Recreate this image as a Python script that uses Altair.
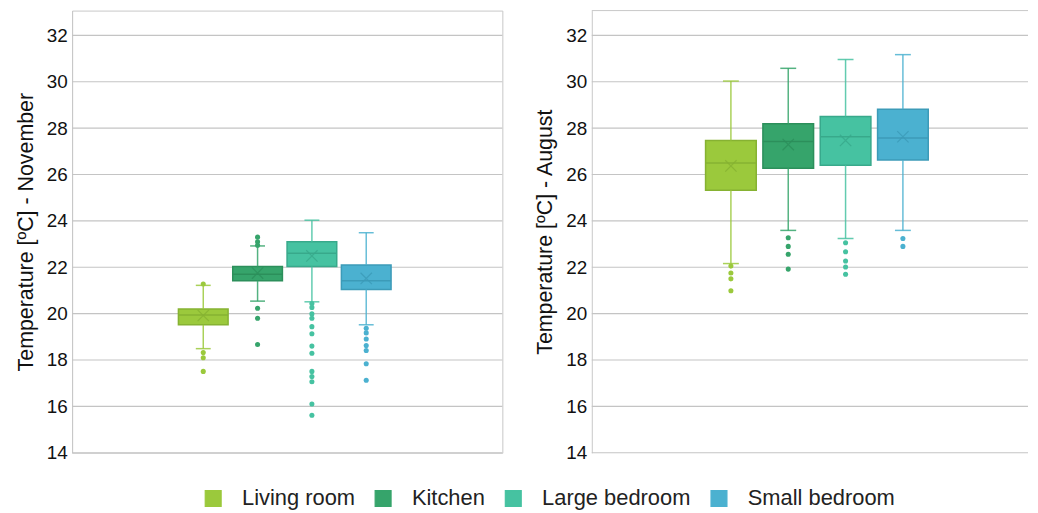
import altair as alt
import pandas as pd

rooms = ["Living room", "Kitchen", "Large bedroom", "Small bedroom"]
fill_colors = ["#9BC93C", "#36A46B", "#46C2A1", "#4BB1D0"]
line_colors = ["#86B232", "#2C8F5B", "#38A98B", "#3C9BB8"]
y_ticks = [14, 16, 18, 20, 22, 24, 26, 28, 30, 32]

# November statistics
nov_low = [18.49, 20.54, 20.51, 19.52]
nov_q1 = [19.52, 21.42, 22.03, 21.04]
nov_median = [19.94, 21.70, 22.60, 21.42]
nov_q3 = [20.20, 22.03, 23.10, 22.10]
nov_high = [21.22, 22.92, 24.03, 23.49]
nov_mean = [19.92, 21.75, 22.49, 21.52]
nov_outliers = [
    [21.28, 18.32, 18.10, 17.51],
    [23.30, 23.10, 22.95, 20.23, 19.80, 18.67],
    [20.44, 20.27, 19.99, 19.80, 19.44, 19.13, 18.60, 18.29, 17.51, 17.29, 17.06, 16.10, 15.62],
    [19.37, 19.17, 18.91, 18.63, 18.41, 17.84, 17.13],
]

# August statistics
aug_low = [22.16, 23.59, 23.24, 23.59]
aug_q1 = [25.32, 26.27, 26.40, 26.63]
aug_median = [26.50, 27.42, 27.63, 27.57]
aug_q3 = [27.47, 28.19, 28.50, 28.82]
aug_high = [30.03, 30.58, 30.96, 31.17]
aug_mean = [26.37, 27.29, 27.47, 27.63]
aug_outliers = [
    [22.05, 21.75, 21.50, 20.99],
    [23.27, 22.90, 22.56, 21.92],
    [23.06, 22.67, 22.27, 22.01, 21.70],
    [23.24, 22.90],
]

XPATH = "M-1,-1L1,1M-1,1L1,-1"
BORDER = "#c8c8c8"


def make_frames(low, q1, med, q3, high, mean, outs):
    stats = pd.DataFrame({"room": rooms, "low": low, "q1": q1, "median": med,
                          "q3": q3, "high": high, "mean": mean})
    rows = []
    for r, vals in zip(rooms, outs):
        for v in vals:
            rows.append({"room": r, "value": v})
    return stats, pd.DataFrame(rows)


def panel(stats, outs, title, width, band_range, p_inner, box_w, cap_w, open_right):
    xs = alt.X("room:N", sort=rooms,
               scale=alt.Scale(domain=rooms, range=band_range, paddingOuter=0,
                               paddingInner=p_inner),
               axis=alt.Axis(labels=False, ticks=False, title=None, grid=False,
                             domain=False))
    ysc = alt.Scale(domain=[14, 33.07], nice=False, zero=False)
    yax = alt.Axis(values=y_ticks, title=title, ticks=False, labelPadding=5,
                   titlePadding=9, domainColor=BORDER, grid=False)
    leg = alt.Legend(title=None, orient="none", legendX=131, legendY=480,
                     direction="horizontal",
                     symbolType="square", symbolSize=256, symbolStrokeWidth=1.2,
                     labelFontSize=22, labelOffset=18, columnPadding=17,
                     symbolOpacity=1)
    color = alt.Color("room:N", scale=alt.Scale(domain=rooms, range=fill_colors),
                      legend=leg)
    strk_leg = alt.Stroke("room:N", scale=alt.Scale(domain=rooms, range=line_colors),
                          legend=leg)
    strk = alt.Stroke("room:N", scale=alt.Scale(domain=rooms, range=line_colors),
                      legend=None)
    fillc = alt.Fill("room:N", scale=alt.Scale(domain=rooms, range=line_colors),
                     legend=None)

    grid = alt.Chart(pd.DataFrame({"t": y_ticks})).mark_rule(
        color="#c4c4c4", strokeWidth=1.2).encode(
        y=alt.Y("t:Q", scale=ysc, axis=yax))

    base = alt.Chart(stats)
    box = base.mark_bar(size=box_w, strokeWidth=1.5).encode(
        x=xs, y=alt.Y("q1:Q", scale=ysc, axis=yax), y2="q3:Q",
        color=color, stroke=strk_leg)
    w_lo = base.mark_rule(strokeWidth=1.5, opacity=0.85).encode(
        x=xs, y=alt.Y("low:Q", scale=ysc), y2="q1:Q", color=color)
    w_hi = base.mark_rule(strokeWidth=1.5, opacity=0.85).encode(
        x=xs, y=alt.Y("q3:Q", scale=ysc), y2="high:Q", color=color)
    cap_lo = base.mark_tick(size=cap_w, thickness=1.5, opacity=0.85).encode(
        x=xs, y=alt.Y("low:Q", scale=ysc), color=color)
    cap_hi = base.mark_tick(size=cap_w, thickness=1.5, opacity=0.85).encode(
        x=xs, y=alt.Y("high:Q", scale=ysc), color=color)
    med = base.mark_tick(size=box_w, thickness=1.5, opacity=1).encode(
        x=xs, y=alt.Y("median:Q", scale=ysc), fill=fillc)
    mean = base.mark_point(shape=XPATH, size=130, strokeWidth=1.2, filled=False,
                           opacity=0.8).encode(
        x=xs, y=alt.Y("mean:Q", scale=ysc), stroke=strk)
    out = alt.Chart(outs).mark_circle(size=26, opacity=1).encode(
        x=xs, y=alt.Y("value:Q", scale=ysc), color=color)

    layers = [grid, box, w_lo, w_hi, cap_lo, cap_hi, med, mean, out]
    if open_right:
        top = alt.Chart(pd.DataFrame({"t": [0]})).mark_rule(
            color=BORDER, strokeWidth=1).encode(y=alt.value(0))
        layers.append(top)
        return alt.layer(*layers).properties(
            width=width, height=445,
            view=alt.ViewBackground(stroke="transparent"))
    return alt.layer(*layers).properties(width=width, height=445)


nov_stats, nov_out = make_frames(nov_low, nov_q1, nov_median, nov_q3, nov_high,
                                 nov_mean, nov_outliers)
aug_stats, aug_out = make_frames(aug_low, aug_q1, aug_median, aug_q3, aug_high,
                                 aug_mean, aug_outliers)

left = panel(nov_stats, nov_out, "Temperature [ºC] - November", 433,
             [107, 321], 0.0855, 50, 15, False)
right = panel(aug_stats, aug_out, "Temperature [ºC] - August", 439,
              [114.5, 338.6], 0.116, 51, 16, True)

chart = alt.hconcat(left, right, spacing=30).properties(
    padding={"left": 6.5, "top": 0, "right": 0, "bottom": 0}
).configure_view(
    stroke=BORDER, strokeWidth=1
).configure_axis(
    labelFont="Liberation Sans", titleFont="Liberation Sans",
    labelFontSize=19, titleFontSize=21.5, titleFontWeight="normal",
    labelColor="#111111", titleColor="#111111"
).configure_legend(
    labelFont="Liberation Sans", labelColor="#222222"
)

chart.save("out.html", embed_options={"renderer": "svg", "actions": False})
